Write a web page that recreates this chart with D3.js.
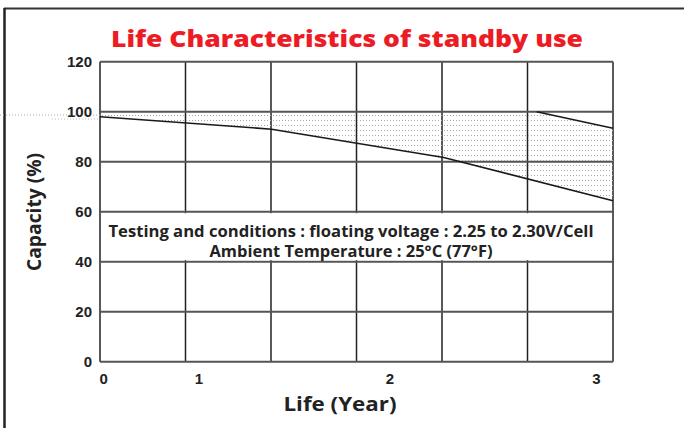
<!DOCTYPE html>
<html>
<head>
<meta charset="utf-8">
<script src="https://cdn.jsdelivr.net/npm/d3@7"></script>
<style>
  body { margin: 0; background: #fff; }
  svg { display: block; }
  .tick-label { font-family: "Liberation Sans", Arial, sans-serif; font-weight: bold; font-size: 15px; fill: #222; }
  .geo { font-family: "Open Sans", sans-serif; font-weight: 700; fill: #222; }
</style>
</head>
<body>
<svg width="684" height="428"></svg>
<script>
// ticks
var yTicks = [0, 20, 40, 60, 80, 100, 120];
var xTickYears = [0, 1, 2, 3];
var xTickLabels = ["0", "1", "2", "3"];

// lower curve (capacity after years of float service)
var lowerYears = [-0.04, 1.38, 2.26, 3.08];
var lowerCapacity = [98, 93, 81.7, 64.4];

// upper curve
var upperYears = [-0.04, 2.71, 3.08];
var upperCapacity = [100, 100, 93.4];

var title = "Life Characteristics of standby use";
var noteLines = ["Testing and conditions : floating voltage : 2.25 to 2.30V/Cell",
                 "Ambient Temperature : 25°C (77°F)"];

var svg = d3.select("svg");

var pLeft = 100, pRight = 613, pTop = 61.7, pBottom = 361.7;

// the year labels are not evenly spread in the original, so piecewise scale
var x = d3.scaleLinear()
    .domain(xTickYears)
    .range([103.6, 199, 390, 596.5]);
var y = d3.scaleLinear().domain([0, 120]).range([pBottom, pTop]);

// frame of the picture
svg.append("line").attr("x1", 4).attr("x2", 684).attr("y1", 8.5).attr("y2", 8.5)
    .attr("stroke", "#333").attr("stroke-width", 2);
svg.append("line").attr("x1", 4.5).attr("x2", 4.5).attr("y1", 8).attr("y2", 428)
    .attr("stroke", "#222").attr("stroke-width", 2.5);

// dot pattern
var defs = svg.append("defs");
var pat = defs.append("pattern").attr("id", "dots")
    .attr("patternUnits", "userSpaceOnUse")
    .attr("width", 3).attr("height", 5);
pat.append("rect").attr("width", 1).attr("height", 1).attr("fill", "#a8a8a8");

// grid: vertical
var cols = 6;
for (var i = 0; i <= cols; i++) {
  var gx = pLeft + (pRight - pLeft) * i / cols;
  svg.append("line").attr("x1", gx).attr("x2", gx).attr("y1", pTop).attr("y2", pBottom)
      .attr("stroke", "#222").attr("stroke-width", 1.5);
}
// grid: horizontal
svg.selectAll(".hgrid").data(yTicks).enter().append("line")
    .attr("class", "hgrid")
    .attr("x1", pLeft).attr("x2", pRight)
    .attr("y1", function(d) { return y(d); }).attr("y2", function(d) { return y(d); })
    .attr("stroke", "#555").attr("stroke-width", 2);

// shaded band between curves
var upper = upperYears.map(function(d, i) { return [d, upperCapacity[i]]; });
var lower = lowerYears.map(function(d, i) { return [d, lowerCapacity[i]]; });
var band = upper.concat(lower.slice().reverse());
var line = d3.line()
    .x(function(d) { return Math.max(pLeft, Math.min(pRight, x(d[0]))); })
    .y(function(d) { return y(d[1]); });

svg.append("path").attr("d", line(band) + "Z").attr("fill", "url(#dots)");

// dotted spill to the left of the axis
svg.append("line").attr("x1", 0).attr("x2", pLeft).attr("y1", 115).attr("y2", 115)
    .attr("stroke", "#aaa").attr("stroke-width", 1).attr("stroke-dasharray", "1,2");
svg.append("line").attr("x1", 52).attr("x2", pLeft).attr("y1", 119).attr("y2", 119)
    .attr("stroke", "#bbb").attr("stroke-width", 1).attr("stroke-dasharray", "1,2");

svg.append("path").attr("d", line(lower)).attr("fill", "none")
    .attr("stroke", "#1a1a1a").attr("stroke-width", 1.6);
svg.append("path").attr("d", line(upper.slice(1))).attr("fill", "none")
    .attr("stroke", "#1a1a1a").attr("stroke-width", 1.6);

// note box
svg.append("rect").attr("x", pLeft + 1.5).attr("y", y(60) + 1.5)
    .attr("width", pRight - pLeft - 3).attr("height", y(40) - y(60) - 3)
    .attr("fill", "#fff");
var noteWidths = [485, 283];
svg.selectAll(".note").data(noteLines).enter().append("text")
    .attr("class", "geo")
    .attr("x", 351).attr("y", function(d, i) { return 236.5 + i * 20; })
    .attr("text-anchor", "middle").attr("font-size", 15.5)
    .attr("textLength", function(d, i) { return noteWidths[i]; })
    .attr("lengthAdjust", "spacingAndGlyphs")
    .text(function(d) { return d; });

// y tick labels
svg.selectAll(".ylab").data(yTicks).enter().append("text")
    .attr("class", "tick-label")
    .attr("x", 92).attr("y", function(d) { return y(d); })
    .attr("dy", "0.36em").attr("text-anchor", "end")
    .text(function(d) { return d; });

// x tick labels
svg.selectAll(".xlab").data(xTickYears).enter().append("text")
    .attr("class", "tick-label")
    .attr("x", function(d) { return x(d); }).attr("y", 384)
    .attr("text-anchor", "middle")
    .text(function(d, i) { return xTickLabels[i]; });

// titles
svg.append("text").attr("class", "geo")
    .attr("x", 347).attr("y", 47).attr("text-anchor", "middle")
    .attr("font-size", 22).style("fill", "#ed1c24").style("font-weight", 800)
    .attr("textLength", 472).attr("lengthAdjust", "spacingAndGlyphs")
    .text(title);

svg.append("text").attr("class", "geo")
    .attr("x", 340).attr("y", 411).attr("text-anchor", "middle")
    .attr("font-size", 19.5)
    .attr("textLength", 113).attr("lengthAdjust", "spacingAndGlyphs")
    .text("Life (Year)");

svg.append("text").attr("class", "geo")
    .attr("transform", "translate(41,212) rotate(-90)")
    .attr("text-anchor", "middle").attr("font-size", 19.5)
    .attr("textLength", 118).attr("lengthAdjust", "spacingAndGlyphs")
    .text("Capacity (%)");
</script>
</body>
</html>
